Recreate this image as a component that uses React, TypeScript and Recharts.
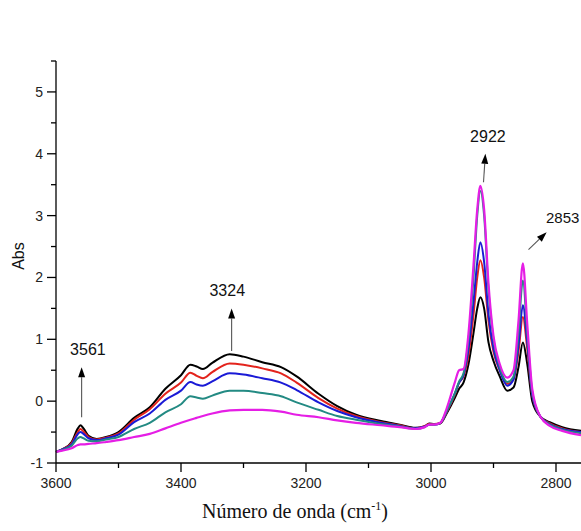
import { LineChart, Line, XAxis, YAxis, ReferenceLine, ReferenceDot } from 'recharts'

// wavenumber grid (cm-1)
const wavenumbers = [
  3600, 3590, 3575, 3565, 3561, 3556, 3548, 3535, 3520, 3500, 3475, 3450, 3425, 3400, 3385, 3375, 3365, 3350, 3322,
  3300, 3270, 3240, 3215, 3180, 3150, 3120, 3080, 3050, 3025, 3010, 3003, 2995, 2985, 2975, 2962, 2955, 2948, 2940,
  2932, 2926, 2921, 2915, 2908, 2900, 2890, 2878, 2868, 2860, 2853, 2846, 2838, 2825, 2810, 2790, 2760,
]

const absBlack = [
  -0.82, -0.78, -0.66, -0.44, -0.39, -0.44, -0.56, -0.61, -0.58, -0.5, -0.27, -0.1, 0.2, 0.42, 0.59, 0.56, 0.52, 0.62, 0.76,
  0.72, 0.63, 0.55, 0.4, 0.12, -0.08, -0.22, -0.32, -0.38, -0.43, -0.41, -0.36, -0.37, -0.36, -0.2, 0.05, 0.2, 0.3, 0.6,
  1.1, 1.5, 1.68, 1.5, 0.95, 0.65, 0.4, 0.17, 0.22, 0.55, 0.95, 0.6, 0.0, -0.25, -0.34, -0.42, -0.48,
]
const absRed = [
  -0.82, -0.78, -0.68, -0.5, -0.45, -0.49, -0.58, -0.62, -0.59, -0.52, -0.3, -0.13, 0.12, 0.3, 0.46, 0.41, 0.37, 0.47, 0.61,
  0.59, 0.53, 0.45, 0.3, 0.05, -0.12, -0.24, -0.34, -0.39, -0.44, -0.4, -0.37, -0.37, -0.35, -0.18, 0.1, 0.3, 0.4, 0.75,
  1.4, 2.0, 2.28, 2.0, 1.3, 0.8, 0.5, 0.28, 0.35, 0.8, 1.36, 0.85, 0.1, -0.25, -0.36, -0.44, -0.5,
]
const absBlue = [
  -0.82, -0.78, -0.7, -0.53, -0.5, -0.53, -0.6, -0.63, -0.6, -0.54, -0.34, -0.2, 0.02, 0.17, 0.31, 0.27, 0.25, 0.32, 0.45,
  0.43, 0.37, 0.3, 0.18, -0.02, -0.16, -0.26, -0.35, -0.4, -0.44, -0.41, -0.38, -0.38, -0.35, -0.17, 0.12, 0.3, 0.42, 0.85,
  1.6, 2.25, 2.57, 2.25, 1.4, 0.85, 0.5, 0.25, 0.35, 0.9, 1.55, 0.95, 0.1, -0.25, -0.37, -0.45, -0.5,
]
const absTeal = [
  -0.82, -0.79, -0.72, -0.6, -0.58, -0.6, -0.64, -0.65, -0.62, -0.58, -0.45, -0.35, -0.18, -0.05, 0.08, 0.06, 0.04, 0.09, 0.17,
  0.17, 0.13, 0.08, -0.02, -0.14, -0.24, -0.3, -0.37, -0.41, -0.45, -0.42, -0.38, -0.38, -0.35, -0.16, 0.12, 0.32, 0.45, 1.0,
  2.0, 3.0, 3.4, 3.0, 1.8, 1.0, 0.55, 0.31, 0.4, 1.1, 1.95, 1.1, 0.15, -0.25, -0.38, -0.46, -0.52,
]
const absMagenta = [
  -0.82, -0.8, -0.76, -0.71, -0.7, -0.7, -0.69, -0.68, -0.66, -0.63, -0.58, -0.53, -0.44, -0.35, -0.3, -0.27, -0.24, -0.2, -0.15,
  -0.14, -0.14, -0.17, -0.22, -0.26, -0.31, -0.35, -0.39, -0.42, -0.45, -0.42, -0.38, -0.38, -0.35, -0.12, 0.3, 0.5, 0.52, 1.1,
  2.2, 3.1, 3.48, 3.1, 1.9, 1.05, 0.6, 0.38, 0.5, 1.3, 2.23, 1.25, 0.2, -0.25, -0.4, -0.48, -0.55,
]

const xTicks = [3600, 3500, 3400, 3300, 3200, 3100, 3000, 2900, 2800]
const yTicks = [-1, -0.5, 0, 0.5, 1, 1.5, 2, 2.5, 3, 3.5, 4, 4.5, 5, 5.5]

const series = [
  { key: 'a', values: absBlack, color: '#000000', width: 2 },
  { key: 'b', values: absRed, color: '#e3231c', width: 2 },
  { key: 'c', values: absBlue, color: '#1a1ad6', width: 2 },
  { key: 'd', values: absTeal, color: '#238a83', width: 2 },
  { key: 'e', values: absMagenta, color: '#e51ee5', width: 2.2 },
]

// peak labels: arrow base, arrow tip, text position (data units)
const peaks = [
  { label: '3561', base: [3559, -0.26], tip: [3559, 0.55], text: [3549, 0.83], anchor: 'middle' },
  { label: '3324', base: [3319, 0.81], tip: [3319, 1.5], text: [3326, 1.79], anchor: 'middle' },
  { label: '2922', base: [2916, 3.54], tip: [2913, 4.0], text: [2909, 4.28], anchor: 'middle' },
  { label: '2853', base: [2844, 2.45], tip: [2815, 2.73], text: [2816, 2.96], anchor: 'start' },
]

const data = wavenumbers.map((wn, i) => {
  const row: Record<string, number> = { wn }
  series.forEach((s) => (row[s.key] = s.values[i]))
  return row
})

const sans = 'Arial, "Liberation Sans", sans-serif'

function XTick({ x, y, payload }: any) {
  const major = payload.value % 200 === 0
  return (
    <g>
      <line x1={x} y1={y} x2={x} y2={y + (major ? 9 : 5)} stroke="#000" strokeWidth={1.3} />
      {major && (
        <text x={x} y={y + 15} dy="0.71em" textAnchor="middle" fontSize={14} fontFamily={sans} fill="#222">
          {payload.value}
        </text>
      )}
    </g>
  )
}

function YTick({ x, y, payload }: any) {
  const major = Number.isInteger(payload.value)
  return (
    <g>
      <line x1={x} y1={y} x2={x - (major ? 9 : 5)} y2={y} stroke="#000" strokeWidth={1.3} />
      {major && (
        <text x={x - 13} y={y} dy="0.35em" textAnchor="end" fontSize={14} fontFamily={sans} fill="#222">
          {payload.value}
        </text>
      )}
    </g>
  )
}

function Arrow(props: any) {
  const { x1, y1, x2, y2 } = props
  const len = Math.hypot(x2 - x1, y2 - y1) || 1
  const ux = (x2 - x1) / len
  const uy = (y2 - y1) / len
  const bx = x2 - ux * 10
  const by = y2 - uy * 10
  return (
    <g>
      <line x1={x1} y1={y1} x2={bx} y2={by} stroke="#555" strokeWidth={1.1} />
      <polygon
        points={`${x2},${y2} ${bx - uy * 3.5},${by + ux * 3.5} ${bx + uy * 3.5},${by - ux * 3.5}`}
        fill="#000"
      />
    </g>
  )
}

export default function App() {
  return (
    <div style={{ position: 'fixed', left: 0, top: 0, width: 581, height: 531, background: '#fff' }}>
      <LineChart width={581} height={531} data={data} margin={{ top: 61, right: 0, bottom: 0, left: 0 }}>
        <XAxis
          dataKey="wn"
          type="number"
          reversed
          domain={[2760, 3600]}
          ticks={xTicks}
          interval={0}
          height={68}
          tickSize={0}
          tickMargin={0}
          tickLine={false}
          tick={<XTick />}
          axisLine={{ stroke: '#000', strokeWidth: 1.3 }}
          label={{
            content: () => (
              <text x={295} y={518} textAnchor="middle" fontSize={20} fontFamily='"Liberation Serif", "Times New Roman", serif' fill="#111">
                Número de onda (cm
                <tspan dy={-8} fontSize={12}>-1</tspan>
                <tspan dy={8}>)</tspan>
              </text>
            ),
          }}
        />
        <YAxis
          type="number"
          domain={[-1, 5.5]}
          ticks={yTicks}
          interval={0}
          width={56}
          tickSize={0}
          tickMargin={0}
          tickLine={false}
          tick={<YTick />}
          axisLine={{ stroke: '#000', strokeWidth: 1.3 }}
          label={{
            content: () => (
              <text x={23.5} y={256} transform="rotate(-90 23.5 256)" textAnchor="middle" fontSize={16} fontFamily={sans} fill="#111">
                Abs
              </text>
            ),
          }}
        />
        {series.map((s) => (
          <Line
            key={s.key}
            dataKey={s.key}
            type="monotone"
            stroke={s.color}
            strokeWidth={s.width}
            dot={false}
            isAnimationActive={false}
          />
        ))}
        {peaks.map((p) => (
          <ReferenceLine
            key={'l' + p.label}
            segment={[
              { x: p.base[0], y: p.base[1] },
              { x: p.tip[0], y: p.tip[1] },
            ]}
            ifOverflow="visible"
            shape={(props: any) => <Arrow {...props} />}
          />
        ))}
        {peaks.map((p) => (
          <ReferenceDot
            key={'t' + p.label}
            x={p.text[0]}
            y={p.text[1]}
            r={0}
            ifOverflow="visible"
            shape={(props: any) => (
              <text x={props.cx} y={props.cy} dy="0.35em" textAnchor={p.anchor} fontSize={p.anchor === 'start' ? 15 : 16} fontFamily={sans} fill="#111">
                {p.label}
              </text>
            )}
          />
        ))}
      </LineChart>
    </div>
  )
}
